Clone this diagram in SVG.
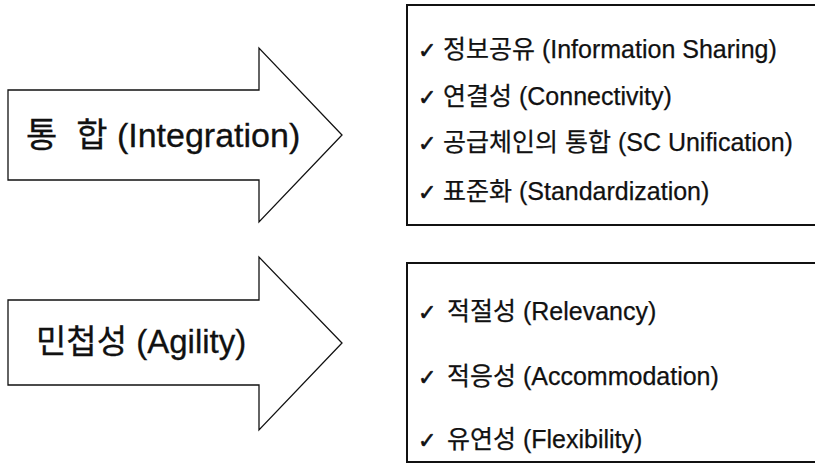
<svg xmlns="http://www.w3.org/2000/svg" width="815" height="466" viewBox="0 0 815 466">
<style>
.arrow{fill:#fff;stroke:#111;stroke-width:1.3;stroke-linejoin:miter}
.box{fill:#fff;stroke:#111;stroke-width:2}
.big{font-family:"Liberation Sans","Noto Sans CJK KR",sans-serif;font-size:34px;fill:#111;stroke:#111;stroke-width:0.3}
.item{font-family:"Liberation Sans","Noto Sans CJK KR",sans-serif;font-size:25px;fill:#111;stroke:#111;stroke-width:0.25}
.chk{font-family:"DejaVu Sans",sans-serif;font-size:22px;fill:#111;stroke:#111;stroke-width:0.6}
</style>
<rect width="815" height="466" fill="#fff"/>
<g id="arrow-integration">
<polygon class="arrow" points="8,90 259,90 259,48 342,135 259,222 259,180 8,180"/>
<text class="big" x="26" y="147" xml:space="preserve">통  합 (Integration)</text>
</g>
<g id="box-integration">
<rect class="box" x="407" y="5" width="420" height="220"/>
<text class="chk" x="418" y="58">✓</text>
<text class="item" x="443" y="58">정보공유 (Information Sharing)</text>
<text class="chk" x="418" y="105">✓</text>
<text class="item" x="443" y="105">연결성 (Connectivity)</text>
<text class="chk" x="418" y="151">✓</text>
<text class="item" x="443" y="151">공급체인의 통합 (SC Unification)</text>
<text class="chk" x="418" y="200">✓</text>
<text class="item" x="443" y="200">표준화 (Standardization)</text>
</g>
<g id="arrow-agility">
<polygon class="arrow" points="8,300 259,300 259,257 342,343 259,430 259,385 8,385"/>
<text class="big" x="36" y="353" style="font-size:33px">민첩성 (Agility)</text>
</g>
<g id="box-agility">
<rect class="box" x="407" y="263" width="420" height="199"/>
<text class="chk" x="418" y="320">✓</text>
<text class="item" x="447" y="320">적절성 (Relevancy)</text>
<text class="chk" x="418" y="385">✓</text>
<text class="item" x="447" y="385">적응성 (Accommodation)</text>
<text class="chk" x="418" y="448">✓</text>
<text class="item" x="447" y="448">유연성 (Flexibility)</text>
</g>
<g id="connectors"/>
</svg>
